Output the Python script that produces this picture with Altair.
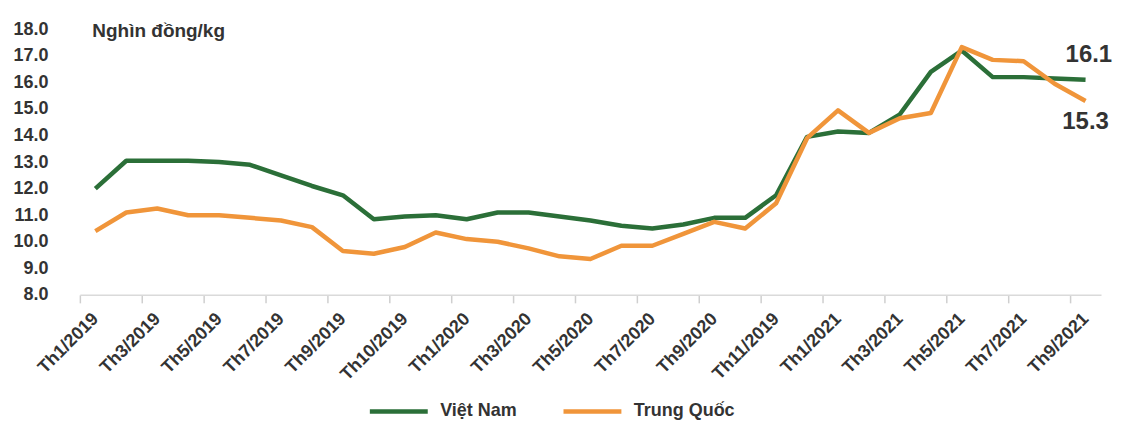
import json
import altair as alt
import pandas as pd

# ---- data ----
SERIES = ["Việt Nam", "Trung Quốc"]
COLORS = ["#2b6f38", "#f0953a"]

VIETNAM = [12.0, 13.05, 13.05, 13.05, 13.0, 12.9, 12.5, 12.1, 11.75, 10.85,
           10.95, 11.0, 10.85, 11.1, 11.1, 10.95, 10.8, 10.6, 10.5, 10.65,
           10.9, 10.9, 11.75, 13.95, 14.15, 14.1, 14.8, 16.4, 17.2, 16.2,
           16.2, 16.15, 16.1]
CHINA = [10.4, 11.1, 11.25, 11.0, 11.0, 10.9, 10.8, 10.55, 9.65, 9.55,
         9.8, 10.35, 10.1, 10.0, 9.75, 9.45, 9.35, 9.85, 9.85, 10.3,
         10.75, 10.5, 11.45, 13.9, 14.95, 14.1, 14.65, 14.85, 17.33, 16.85,
         16.8, 15.95, 15.3]

TICK_LABELS = ["Th1/2019", "Th3/2019", "Th5/2019", "Th7/2019", "Th9/2019",
               "Th10/2019", "Th1/2020", "Th3/2020", "Th5/2020", "Th7/2020",
               "Th9/2020", "Th11/2019", "Th1/2021", "Th3/2021", "Th5/2021",
               "Th7/2021", "Th9/2021"]

Y_TICKS = [8.0, 9.0, 10.0, 11.0, 12.0, 13.0, 14.0, 15.0, 16.0, 17.0, 18.0]
UNIT = "Nghìn đồng/kg"

rows = []
for i, v in enumerate(VIETNAM):
    rows.append({"idx": i, "value": v, "series": SERIES[0]})
for i, v in enumerate(CHINA):
    rows.append({"idx": i, "value": v, "series": SERIES[1]})
df = pd.DataFrame(rows)
n = len(VIETNAM)

FONT = "Liberation Sans"
TXT = "#333333"

boundaries = [i - 0.5 for i in range(0, n, 2)]
label_expr = (json.dumps(TICK_LABELS, ensure_ascii=False)
              + "[round((datum.value + 0.5) / 2)]")

x = alt.X(
    "idx:Q",
    scale=alt.Scale(domain=[-0.5, n - 0.5], nice=False, zero=False),
    axis=alt.Axis(
        values=boundaries, labelExpr=label_expr, labelOffset=15.5,
        labelAngle=-45, labelAlign="right", labelBaseline="middle",
        labelOverlap=False, labelFlush=False, labelBound=False,
        tickSize=8, tickColor="#cfcfcf", tickWidth=1.5,
        domainColor="#dadada", domainWidth=1.5, grid=False, title=None,
        labelFont=FONT, labelFontSize=18, labelFontWeight="bold",
        labelColor=TXT, labelPadding=13,
    ),
)
y = alt.Y(
    "value:Q",
    scale=alt.Scale(domain=[Y_TICKS[0], Y_TICKS[-1]], nice=False, zero=False),
    axis=alt.Axis(
        values=Y_TICKS, format=".1f", domain=False, ticks=False, grid=False,
        labelOverlap=False, labelFlush=False, labelBound=False,
        labelSeparation=0,
        labelFont=FONT, labelFontSize=18, labelFontWeight="bold",
        labelColor=TXT, labelPadding=32,
        title=UNIT, titleAngle=0, titleAlign="left", titleBaseline="middle",
        titleX=12, titleY=1, titleFont=FONT, titleFontSize=19,
        titleFontWeight="bold", titleColor=TXT,
    ),
)
color = alt.Color(
    "series:N",
    scale=alt.Scale(domain=SERIES, range=COLORS),
    legend=alt.Legend(
        title=None, orient="none", legendX=288, legendY=351,
        direction="horizontal", symbolType="stroke", symbolSize=3364,
        symbolStrokeWidth=4.5, labelFont=FONT, labelFontSize=18,
        labelFontWeight="bold", labelColor=TXT, labelOffset=10,
        columnPadding=37, padding=0,
    ),
)

base = alt.Chart(df).encode(x=x, y=y, color=color)

vn_line = base.transform_filter(alt.datum.series == SERIES[0]).mark_line(
    strokeWidth=4.5, strokeJoin="round")
cn_line = base.transform_filter(alt.datum.series == SERIES[1]).mark_line(
    strokeWidth=4.5, strokeJoin="round")

last = n - 1
vn_lab = alt.Chart(df).transform_filter(
    (alt.datum.series == SERIES[0]) & (alt.datum.idx == last)
).mark_text(align="left", baseline="middle", dx=-20, dy=-25, fontSize=24,
            fontWeight="bold", font=FONT, color=TXT).encode(
    x=x, y=y, text=alt.Text("value:Q", format=".1f"))
cn_lab = alt.Chart(df).transform_filter(
    (alt.datum.series == SERIES[1]) & (alt.datum.idx == last)
).mark_text(align="center", baseline="middle", dx=0, dy=21, fontSize=24,
            fontWeight="bold", font=FONT, color=TXT).encode(
    x=x, y=y, text=alt.Text("value:Q", format=".1f"))

chart = alt.layer(vn_line, cn_line, vn_lab, cn_lab).properties(
    width=1023, height=266,
    autosize=alt.AutoSizeParams(type="none"),
    padding={"left": 72, "top": 21, "right": 15, "bottom": 127},
    background="white",
).configure_view(stroke=None).configure_axis(labelOverlap=False)

chart.save("out.html", embed_options={"renderer": "svg", "actions": False})
